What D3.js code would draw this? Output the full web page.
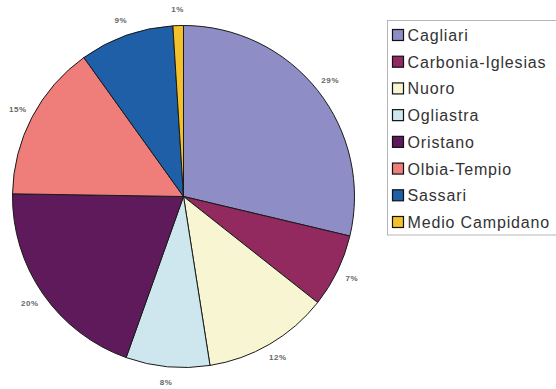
<!DOCTYPE html>
<html>
<head>
<meta charset="utf-8">
<script src="https://cdn.jsdelivr.net/npm/d3@7"></script>
<style>
  html, body { margin: 0; padding: 0; background: #fff; }
  svg { display: block; }
</style>
</head>
<body>
<svg id="chart" width="556" height="389"></svg>
<script>
// Province shares (percent)
const provinces = ["Cagliari", "Carbonia-Iglesias", "Nuoro", "Ogliastra", "Oristano", "Olbia-Tempio", "Sassari", "Medio Campidano"];
const shares = [29, 7, 12, 8, 20, 15, 9, 1];
const palette = ["#8f8dc6", "#922a60", "#f7f5d2", "#cee7ee", "#5e1a5b", "#ef7e7b", "#1e5fa8", "#f2c12c"];

const svg = d3.select("#chart");
const cx = 183.5, cy = 196.5, radius = 171, labelRadius = 187;

const data = provinces.map((name, i) => ({ name, value: shares[i], color: palette[i] }));

const pie = d3.pie().value(d => d.value).sort(null);
const arc = d3.arc().innerRadius(0).outerRadius(radius);
const labelArc = d3.arc().innerRadius(labelRadius).outerRadius(labelRadius);

const g = svg.append("g").attr("transform", `translate(${cx},${cy})`);
const arcs = pie(data);

g.selectAll("path.slice")
  .data(arcs)
  .join("path")
  .attr("class", "slice")
  .attr("d", arc)
  .attr("fill", d => d.data.color)
  .attr("stroke", "#1a1a1a")
  .attr("stroke-width", 1)
  .attr("stroke-linejoin", "round");

g.selectAll("text.pct")
  .data(arcs)
  .join("text")
  .attr("class", "pct")
  .attr("transform", d => `translate(${labelArc.centroid(d)})`)
  .attr("text-anchor", "middle")
  .attr("dominant-baseline", "central")
  .attr("font-family", "Liberation Sans, Arial, sans-serif")
  .attr("font-size", 8)
  .attr("font-weight", "bold")
  .attr("letter-spacing", 0.6)
  .attr("fill", "#666")
  .text(d => d.data.value + "%");

// Legend
const legend = svg.append("g");
legend.append("rect")
  .attr("x", 387.5).attr("y", 20.5)
  .attr("width", 180).attr("height", 214.5)
  .attr("fill", "#fff")
  .attr("stroke", "#b5b5b5")
  .attr("stroke-width", 1);

const rowY = d3.scalePoint().domain(provinces).range([35, 222]);

const items = legend.selectAll("g.item")
  .data(data)
  .join("g")
  .attr("class", "item")
  .attr("transform", d => `translate(0,${rowY(d.name)})`);

items.append("rect")
  .attr("x", 392.5).attr("y", -5.5)
  .attr("width", 11).attr("height", 11)
  .attr("fill", d => d.color)
  .attr("stroke", "#111")
  .attr("stroke-width", 1.2);

items.append("text")
  .attr("x", 407.5)
  .attr("y", 0.5)
  .attr("dominant-baseline", "central")
  .attr("font-family", "Liberation Sans, Arial, sans-serif")
  .attr("font-size", 16)
  .attr("letter-spacing", 0.85)
  .attr("fill", "#333")
  .text(d => d.name);
</script>
</body>
</html>
